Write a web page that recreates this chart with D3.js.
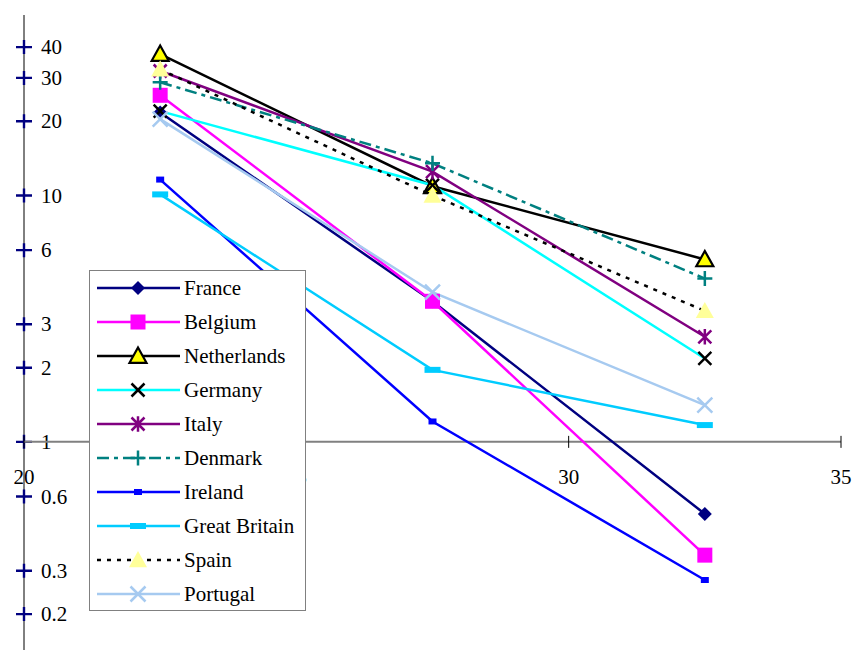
<!DOCTYPE html>
<html>
<head>
<meta charset="utf-8">
<script src="https://cdn.jsdelivr.net/npm/d3@7"></script>
<style>
  body { margin: 0; background: #fff; }
  svg { display: block; }
</style>
</head>
<body>
<div id="chart"></div>
<script>
// x positions shared by every series
const xValues = [22.5, 27.5, 32.5];

// series values
const france = [21.7, 3.72, 0.51];
const belgium = [25.5, 3.72, 0.347];
const netherlands = [37.5, 10.9, 5.5];
const germany = [22.0, 11.0, 2.18];
const italy = [32.0, 12.5, 2.67];
const denmark = [28.8, 13.5, 4.6];
const ireland = [11.6, 1.21, 0.275];
const greatBritain = [10.1, 1.96, 1.17];
const spain = [32.5, 10.0, 3.4];
const portugal = [20.4, 4.05, 1.41];

const countries = ["France", "Belgium", "Netherlands", "Germany", "Italy",
    "Denmark", "Ireland", "Great Britain", "Spain", "Portugal"];

const yTicks = [0.2, 0.3, 0.6, 1, 2, 3, 6, 10, 20, 30, 40];
const xTicks = [20, 25, 30, 35];

// look of each series (line colour, dash, marker)
const styles = {
    "France":        {line: "#000080", dash: null, marker: "diamond", fill: "#000080", stroke: "none", size: 14},
    "Belgium":       {line: "#ff00ff", dash: null, marker: "square", fill: "#ff00ff", stroke: "none", size: 15},
    "Netherlands":   {line: "#000000", dash: null, marker: "triangle", fill: "#ffff00", stroke: "#000", size: 17},
    "Germany":       {line: "#00ffff", dash: null, marker: "x", fill: "none", stroke: "#000", size: 13},
    "Italy":         {line: "#800080", dash: null, marker: "star", fill: "none", stroke: "#800080", size: 13},
    "Denmark":       {line: "#008080", dash: "12,5,4,5", marker: "plus", fill: "none", stroke: "#008080", size: 15},
    "Ireland":       {line: "#0000ff", dash: null, marker: "bar", fill: "#0000ff", stroke: "none", size: 8},
    "Great Britain": {line: "#00ccff", dash: null, marker: "bar", fill: "#00ccff", stroke: "none", size: 16},
    "Spain":         {line: "#000000", dash: "4,6", marker: "triangle", fill: "#ffff99", stroke: "none", size: 18},
    "Portugal":      {line: "#a6caf0", dash: null, marker: "x", fill: "none", stroke: "#a6caf0", size: 15}
};

const seriesValues = [france, belgium, netherlands, germany, italy,
    denmark, ireland, greatBritain, spain, portugal];

const series = countries.map((name, i) => ({
    name: name,
    style: styles[name],
    points: xValues.map((x, j) => ({x: x, y: seriesValues[i][j]}))
}));

const width = 854, height = 650;
const fontFamily = "'Liberation Serif', 'DejaVu Serif', serif";
const fontSize = 21;

const svg = d3.select("#chart").append("svg")
    .attr("width", width)
    .attr("height", height);

// scales
const xScale = d3.scaleLinear().domain([20, 35]).range([24, 841]);
const yScale = d3.scaleLog().domain([0.143, 54]).range([650, 15]);

// marker path for a given style, centred on 0,0
function markerPath(st) {
    const s = st.size / 2;
    switch (st.marker) {
        case "diamond":
            return `M0,${-s}L${s},0L0,${s}L${-s},0Z`;
        case "square":
            return `M${-s},${-s}H${s}V${s}H${-s}Z`;
        case "triangle":
            return `M0,${-s}L${s},${s * 0.8}L${-s},${s * 0.8}Z`;
        case "x":
            return `M${-s},${-s}L${s},${s}M${s},${-s}L${-s},${s}`;
        case "star":
            return `M${-s},${-s}L${s},${s}M${s},${-s}L${-s},${s}M0,${-s * 1.2}V${s * 1.2}`;
        case "plus":
            return `M${-s},0H${s}M0,${-s}V${s}`;
        case "bar":
            return `M${-s},-3H${s}V3H${-s}Z`;
    }
}

// y axis line
svg.append("line")
    .attr("x1", xScale(20)).attr("x2", xScale(20))
    .attr("y1", 15).attr("y2", 650)
    .attr("stroke", "#000").attr("stroke-width", 1);

// y ticks drawn as plus signs
const yAxis = svg.append("g");
yTicks.forEach(t => {
    const y = yScale(t);
    yAxis.append("path")
        .attr("d", `M${xScale(20) - 8},${y}H${xScale(20) + 8}M${xScale(20)},${y - 7}V${y + 7}`)
        .attr("stroke", "#000080").attr("stroke-width", 2.4).attr("fill", "none");
    yAxis.append("text")
        .attr("x", 41).attr("y", y)
        .attr("dy", "0.34em")
        .style("font-family", fontFamily)
        .style("font-size", fontSize + "px")
        .text(t);
});

// x axis crossing at 1
const xAxisY = yScale(1);
svg.append("line")
    .attr("x1", xScale(20)).attr("x2", xScale(35))
    .attr("y1", xAxisY).attr("y2", xAxisY)
    .attr("stroke", "#808080").attr("stroke-width", 2);

const xAxis = svg.append("g");
xTicks.forEach(t => {
    const x = xScale(t);
    xAxis.append("line")
        .attr("x1", x).attr("x2", x)
        .attr("y1", xAxisY - 6).attr("y2", xAxisY + 6)
        .attr("stroke", "#000").attr("stroke-width", 1);
    xAxis.append("text")
        .attr("x", x).attr("y", xAxisY + 42)
        .attr("text-anchor", "middle")
        .style("font-family", fontFamily)
        .style("font-size", fontSize + "px")
        .text(t);
});

// series lines and markers
const line = d3.line().x(d => xScale(d.x)).y(d => yScale(d.y));

const plot = svg.append("g");
series.forEach(s => {
    plot.append("path")
        .datum(s.points)
        .attr("d", line)
        .attr("fill", "none")
        .attr("stroke", s.style.line)
        .attr("stroke-width", 2.5)
        .attr("stroke-dasharray", s.style.dash);
});
series.forEach(s => {
    plot.selectAll(null)
        .data(s.points)
        .join("path")
        .attr("transform", d => `translate(${xScale(d.x)},${yScale(d.y)})`)
        .attr("d", markerPath(s.style))
        .attr("fill", s.style.fill)
        .attr("stroke", s.style.stroke)
        .attr("stroke-width", s.style.marker === "triangle" ? 2.2 : 2.5);
});

// legend
const legend = svg.append("g").attr("transform", "translate(89,270)");
legend.append("rect")
    .attr("x", 0.5).attr("y", 0.5)
    .attr("width", 216).attr("height", 340)
    .attr("fill", "#fff")
    .attr("stroke", "#808080").attr("stroke-width", 1);

series.forEach((s, i) => {
    const g = legend.append("g").attr("transform", `translate(0,${18 + i * 34})`);
    g.append("line")
        .attr("x1", 8).attr("x2", 91)
        .attr("y1", 0).attr("y2", 0)
        .attr("stroke", s.style.line)
        .attr("stroke-width", 2.5)
        .attr("stroke-dasharray", s.style.dash);
    g.append("path")
        .attr("transform", "translate(49,0)")
        .attr("d", markerPath(s.style))
        .attr("fill", s.style.fill)
        .attr("stroke", s.style.stroke)
        .attr("stroke-width", s.style.marker === "triangle" ? 2.2 : 2.5);
    g.append("text")
        .attr("x", 95).attr("y", 0)
        .attr("dy", "0.34em")
        .style("font-family", fontFamily)
        .style("font-size", fontSize + "px")
        .text(s.name);
});
</script>
</body>
</html>
